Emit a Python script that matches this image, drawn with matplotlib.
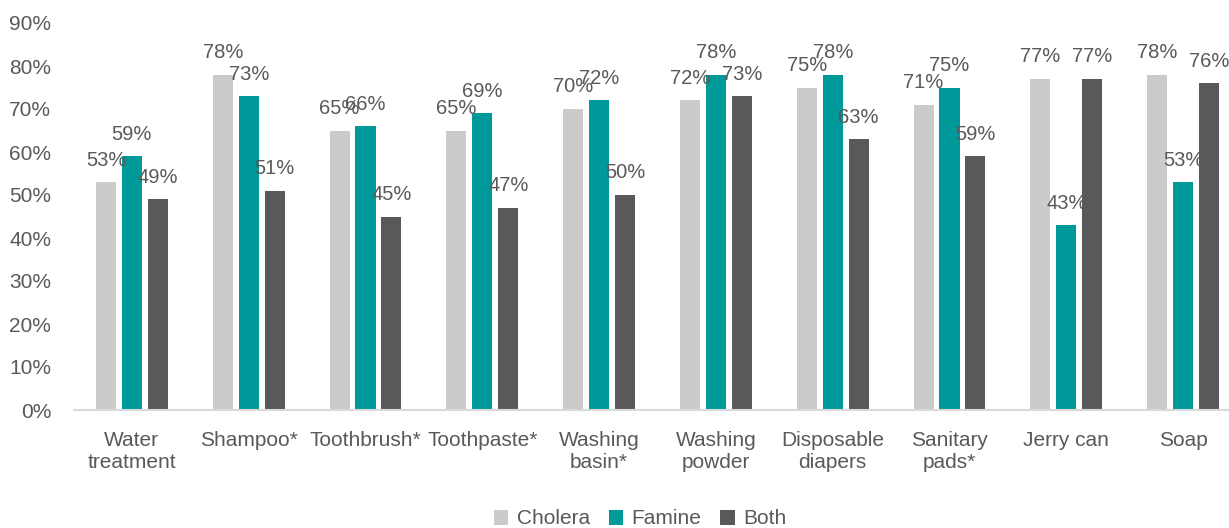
import numpy as np
import matplotlib.pyplot as plt
from matplotlib.ticker import PercentFormatter

plt.rcParams['font.family'] = ['Liberation Sans', 'DejaVu Sans']

# Share of respondents per item and crisis type (%)
items = ['Water\ntreatment', 'Shampoo*', 'Toothbrush*', 'Toothpaste*', 'Washing\nbasin*',
         'Washing\npowder', 'Disposable\ndiapers', 'Sanitary\npads*', 'Jerry can', 'Soap']
cholera = [53, 78, 65, 65, 70, 72, 75, 71, 77, 78]
famine = [59, 73, 66, 69, 72, 78, 78, 75, 43, 53]
both = [49, 51, 45, 47, 50, 73, 63, 59, 77, 76]

series = [('Cholera', cholera, '#CBCBCB'),
          ('Famine', famine, '#009999'),
          ('Both', both, '#59595B')]

txt = '#595959'
fig = plt.figure(figsize=(12.29, 5.28), dpi=100)
ax = fig.add_axes([73.5 / 1229, 1 - 410 / 528, 1168 / 1229, (410 - 23) / 528])

x = np.arange(len(items))
step = 0.222
width = 0.172
for i, (name, vals, col) in enumerate(series):
    pos = x + (i - 1) * step
    ax.bar(pos, vals, width, color=col, label=name)
    for p, v in zip(pos, vals):
        ax.annotate(f'{v}%', (p, v), xytext=(0, 9), textcoords='offset points',
                    ha='center', va='bottom', fontsize=14.5, color=txt)

ax.set_xlim(-0.5, len(items) - 0.5)
ax.set_ylim(0, 90)
ax.set_yticks(np.arange(0, 91, 10))
ax.yaxis.set_major_formatter(PercentFormatter(decimals=0))
ax.set_xticks(x)
ax.set_xticklabels(items)
ax.tick_params(axis='both', length=0, labelsize=15, labelcolor=txt)
ax.tick_params(axis='x', pad=15)
ax.tick_params(axis='y', pad=16)
for s in ['top', 'right', 'left']:
    ax.spines[s].set_visible(False)
ax.spines['bottom'].set_color('#D9D9D9')
ax.spines['bottom'].set_linewidth(1.5)

fig.legend(loc='center', bbox_to_anchor=(640 / 1229, 1 - 519 / 528), ncol=3, frameon=False,
           fontsize=15, labelcolor=txt, handlelength=0.7, handleheight=0.7,
           handletextpad=0.4, columnspacing=0.9)

fig.savefig('out.png', dpi=100)
